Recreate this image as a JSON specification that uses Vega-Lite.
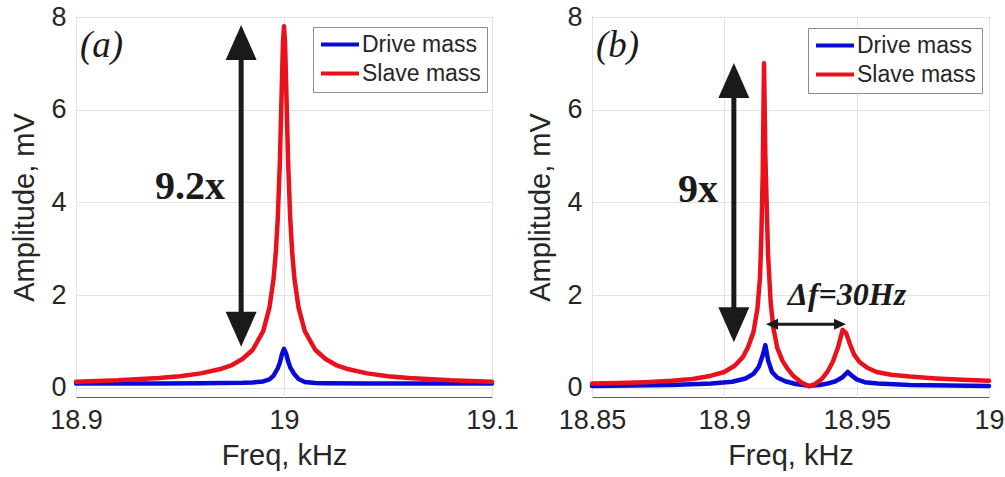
{
  "$schema": "https://vega.github.io/schema/vega-lite/v6.json",
  "background": "white",
  "padding": {"left": 10, "top": 2, "right": 0, "bottom": 0},
  "spacing": 7,
  "datasets": {
    "curvesA": [
      {"mass": "Drive mass", "f": 18.9, "amp": 0.09},
      {"mass": "Drive mass", "f": 18.92, "amp": 0.09},
      {"mass": "Drive mass", "f": 18.94, "amp": 0.09},
      {"mass": "Drive mass", "f": 18.96, "amp": 0.095},
      {"mass": "Drive mass", "f": 18.97, "amp": 0.1},
      {"mass": "Drive mass", "f": 18.98, "amp": 0.105},
      {"mass": "Drive mass", "f": 18.985, "amp": 0.115},
      {"mass": "Drive mass", "f": 18.99, "amp": 0.135},
      {"mass": "Drive mass", "f": 18.993, "amp": 0.18},
      {"mass": "Drive mass", "f": 18.995, "amp": 0.26},
      {"mass": "Drive mass", "f": 18.997, "amp": 0.42},
      {"mass": "Drive mass", "f": 18.998, "amp": 0.54},
      {"mass": "Drive mass", "f": 18.999, "amp": 0.72},
      {"mass": "Drive mass", "f": 19.0, "amp": 0.84},
      {"mass": "Drive mass", "f": 19.001, "amp": 0.74},
      {"mass": "Drive mass", "f": 19.002, "amp": 0.57},
      {"mass": "Drive mass", "f": 19.003, "amp": 0.44},
      {"mass": "Drive mass", "f": 19.005, "amp": 0.29},
      {"mass": "Drive mass", "f": 19.007, "amp": 0.19},
      {"mass": "Drive mass", "f": 19.01, "amp": 0.125},
      {"mass": "Drive mass", "f": 19.015, "amp": 0.1},
      {"mass": "Drive mass", "f": 19.02, "amp": 0.095},
      {"mass": "Drive mass", "f": 19.04, "amp": 0.09},
      {"mass": "Drive mass", "f": 19.06, "amp": 0.09},
      {"mass": "Drive mass", "f": 19.08, "amp": 0.09},
      {"mass": "Drive mass", "f": 19.1, "amp": 0.09},
      {"mass": "Slave mass", "f": 18.9, "amp": 0.13},
      {"mass": "Slave mass", "f": 18.92, "amp": 0.16},
      {"mass": "Slave mass", "f": 18.94, "amp": 0.21},
      {"mass": "Slave mass", "f": 18.95, "amp": 0.25},
      {"mass": "Slave mass", "f": 18.96, "amp": 0.31},
      {"mass": "Slave mass", "f": 18.97, "amp": 0.41},
      {"mass": "Slave mass", "f": 18.975, "amp": 0.49},
      {"mass": "Slave mass", "f": 18.98, "amp": 0.62},
      {"mass": "Slave mass", "f": 18.985, "amp": 0.82},
      {"mass": "Slave mass", "f": 18.99, "amp": 1.22},
      {"mass": "Slave mass", "f": 18.993, "amp": 1.73},
      {"mass": "Slave mass", "f": 18.995, "amp": 2.36},
      {"mass": "Slave mass", "f": 18.996, "amp": 2.88},
      {"mass": "Slave mass", "f": 18.997, "amp": 3.65},
      {"mass": "Slave mass", "f": 18.998, "amp": 4.85},
      {"mass": "Slave mass", "f": 18.999, "amp": 6.6},
      {"mass": "Slave mass", "f": 18.9995, "amp": 7.44},
      {"mass": "Slave mass", "f": 19.0, "amp": 7.8},
      {"mass": "Slave mass", "f": 19.0005, "amp": 7.44},
      {"mass": "Slave mass", "f": 19.001, "amp": 6.6},
      {"mass": "Slave mass", "f": 19.002, "amp": 4.85},
      {"mass": "Slave mass", "f": 19.003, "amp": 3.65},
      {"mass": "Slave mass", "f": 19.004, "amp": 2.88},
      {"mass": "Slave mass", "f": 19.005, "amp": 2.36},
      {"mass": "Slave mass", "f": 19.007, "amp": 1.73},
      {"mass": "Slave mass", "f": 19.01, "amp": 1.22},
      {"mass": "Slave mass", "f": 19.015, "amp": 0.82},
      {"mass": "Slave mass", "f": 19.02, "amp": 0.62},
      {"mass": "Slave mass", "f": 19.025, "amp": 0.49},
      {"mass": "Slave mass", "f": 19.03, "amp": 0.41},
      {"mass": "Slave mass", "f": 19.04, "amp": 0.31},
      {"mass": "Slave mass", "f": 19.05, "amp": 0.25},
      {"mass": "Slave mass", "f": 19.06, "amp": 0.21},
      {"mass": "Slave mass", "f": 19.08, "amp": 0.16},
      {"mass": "Slave mass", "f": 19.1, "amp": 0.13}
    ],
    "curvesB": [
      {"mass": "Drive mass", "f": 18.85, "amp": 0.04},
      {"mass": "Drive mass", "f": 18.88, "amp": 0.06},
      {"mass": "Drive mass", "f": 18.895, "amp": 0.09},
      {"mass": "Drive mass", "f": 18.903, "amp": 0.13},
      {"mass": "Drive mass", "f": 18.908, "amp": 0.2},
      {"mass": "Drive mass", "f": 18.911, "amp": 0.3},
      {"mass": "Drive mass", "f": 18.913, "amp": 0.45},
      {"mass": "Drive mass", "f": 18.9145, "amp": 0.7},
      {"mass": "Drive mass", "f": 18.9155, "amp": 0.92},
      {"mass": "Drive mass", "f": 18.9165, "amp": 0.6},
      {"mass": "Drive mass", "f": 18.918, "amp": 0.34},
      {"mass": "Drive mass", "f": 18.92, "amp": 0.22},
      {"mass": "Drive mass", "f": 18.923, "amp": 0.14},
      {"mass": "Drive mass", "f": 18.927, "amp": 0.08},
      {"mass": "Drive mass", "f": 18.932, "amp": 0.04},
      {"mass": "Drive mass", "f": 18.936, "amp": 0.06},
      {"mass": "Drive mass", "f": 18.939, "amp": 0.09},
      {"mass": "Drive mass", "f": 18.942, "amp": 0.14},
      {"mass": "Drive mass", "f": 18.9445, "amp": 0.22},
      {"mass": "Drive mass", "f": 18.9466, "amp": 0.34},
      {"mass": "Drive mass", "f": 18.948, "amp": 0.27},
      {"mass": "Drive mass", "f": 18.95, "amp": 0.18},
      {"mass": "Drive mass", "f": 18.953, "amp": 0.12},
      {"mass": "Drive mass", "f": 18.958, "amp": 0.09},
      {"mass": "Drive mass", "f": 18.97, "amp": 0.06},
      {"mass": "Drive mass", "f": 18.985, "amp": 0.05},
      {"mass": "Drive mass", "f": 19.0, "amp": 0.04},
      {"mass": "Slave mass", "f": 18.85, "amp": 0.09},
      {"mass": "Slave mass", "f": 18.86, "amp": 0.1},
      {"mass": "Slave mass", "f": 18.87, "amp": 0.12},
      {"mass": "Slave mass", "f": 18.88, "amp": 0.15},
      {"mass": "Slave mass", "f": 18.888, "amp": 0.19},
      {"mass": "Slave mass", "f": 18.895, "amp": 0.26},
      {"mass": "Slave mass", "f": 18.9, "amp": 0.34},
      {"mass": "Slave mass", "f": 18.904, "amp": 0.48},
      {"mass": "Slave mass", "f": 18.907, "amp": 0.66},
      {"mass": "Slave mass", "f": 18.909, "amp": 0.88},
      {"mass": "Slave mass", "f": 18.911, "amp": 1.2},
      {"mass": "Slave mass", "f": 18.9125, "amp": 1.7},
      {"mass": "Slave mass", "f": 18.9135, "amp": 2.4},
      {"mass": "Slave mass", "f": 18.914, "amp": 3.3},
      {"mass": "Slave mass", "f": 18.9145, "amp": 4.6},
      {"mass": "Slave mass", "f": 18.915, "amp": 7.0},
      {"mass": "Slave mass", "f": 18.9155, "amp": 5.0},
      {"mass": "Slave mass", "f": 18.9165, "amp": 2.9},
      {"mass": "Slave mass", "f": 18.9175, "amp": 1.85},
      {"mass": "Slave mass", "f": 18.9185, "amp": 1.3},
      {"mass": "Slave mass", "f": 18.92, "amp": 0.86},
      {"mass": "Slave mass", "f": 18.922, "amp": 0.58},
      {"mass": "Slave mass", "f": 18.924, "amp": 0.4},
      {"mass": "Slave mass", "f": 18.926, "amp": 0.26},
      {"mass": "Slave mass", "f": 18.929, "amp": 0.12},
      {"mass": "Slave mass", "f": 18.932, "amp": 0.03},
      {"mass": "Slave mass", "f": 18.934, "amp": 0.07},
      {"mass": "Slave mass", "f": 18.937, "amp": 0.2},
      {"mass": "Slave mass", "f": 18.939, "amp": 0.35},
      {"mass": "Slave mass", "f": 18.941, "amp": 0.56},
      {"mass": "Slave mass", "f": 18.943, "amp": 0.88},
      {"mass": "Slave mass", "f": 18.9447, "amp": 1.25},
      {"mass": "Slave mass", "f": 18.946, "amp": 1.18},
      {"mass": "Slave mass", "f": 18.9474, "amp": 0.95},
      {"mass": "Slave mass", "f": 18.949, "amp": 0.72},
      {"mass": "Slave mass", "f": 18.951, "amp": 0.56},
      {"mass": "Slave mass", "f": 18.954, "amp": 0.43},
      {"mass": "Slave mass", "f": 18.9575, "amp": 0.34},
      {"mass": "Slave mass", "f": 18.963, "amp": 0.28},
      {"mass": "Slave mass", "f": 18.97, "amp": 0.24},
      {"mass": "Slave mass", "f": 18.98, "amp": 0.2},
      {"mass": "Slave mass", "f": 18.99, "amp": 0.17},
      {"mass": "Slave mass", "f": 19.0, "amp": 0.15}
    ]
  },
  "hconcat": [
    {
      "width": 416,
      "height": 380,
      "encoding": {
        "x": {"field": "f", "type": "quantitative", "scale": {"domain": [18.9, 19.1], "nice": false, "zero": false}, "axis": {"title": "Freq, kHz", "values": [18.9, 19, 19.1], "format": "~g"}},
        "y": {"field": "amp", "type": "quantitative", "scale": {"domain": [-0.2, 8], "nice": false, "zero": false}, "axis": {"title": "Amplitude, mV", "values": [0, 2, 4, 6, 8], "format": "~g"}}
      },
      "layer": [
        {
          "data": {"name": "curvesA"},
          "mark": {"type": "line", "strokeWidth": 4.5, "strokeJoin": "round", "strokeCap": "round"},
          "encoding": {
            "color": {
              "field": "mass", "type": "nominal",
              "scale": {"domain": ["Drive mass", "Slave mass"], "range": ["#0a0ad8", "#e9121c"]},
              "legend": {"title": null, "orient": "none", "legendX": 237, "legendY": 10, "strokeColor": "#8c8c8c", "fillColor": "white", "padding": 6, "labelFontSize": 23, "labelFont": "Liberation Sans", "labelColor": "#262626", "symbolType": "M-1,0H3", "symbolStrokeWidth": 4, "symbolSize": 361, "rowPadding": 5, "labelOffset": 20}
            }
          }
        },
        {
          "data": {"values": [{"f": 18.9794, "amp": 7.3, "amp2": 1.4}]},
          "mark": {"type": "rule", "strokeWidth": 5, "color": "#1a1a1a"},
          "encoding": {"y2": {"field": "amp2"}}
        },
        {
          "data": {"values": [{"f": 18.9794, "amp": 7.45, "dir": "up"}, {"f": 18.9794, "amp": 1.26, "dir": "down"}]},
          "mark": {"type": "point", "filled": true, "size": 1225, "opacity": 1, "color": "#1a1a1a", "strokeWidth": 0},
          "encoding": {"shape": {"field": "dir", "type": "nominal", "scale": {"domain": ["up", "down", "left", "right"], "range": ["M0,-1L0.886,1L-0.886,1Z", "M0,1L0.886,-1L-0.886,-1Z", "M-1,0L1,-0.9L1,0.9Z", "M1,0L-1,-0.9L-1,0.9Z"]}, "legend": null}}
        },
        {
          "data": {"values": [{"f": 18.9019, "amp": 7.14, "label": "(a)"}]},
          "mark": {"type": "text", "align": "left", "baseline": "alphabetic", "font": "Liberation Serif", "fontStyle": "italic", "fontSize": 37, "color": "#1a1a1a"},
          "encoding": {"text": {"field": "label"}}
        },
        {
          "data": {"values": [{"f": 18.938, "amp": 4.07, "label": "9.2x"}]},
          "mark": {"type": "text", "align": "left", "baseline": "alphabetic", "font": "Liberation Serif", "fontWeight": "bold", "fontSize": 40, "color": "#1a1a1a"},
          "encoding": {"text": {"field": "label"}}
        }
      ]
    },
    {
      "width": 397,
      "height": 380,
      "encoding": {
        "x": {"field": "f", "type": "quantitative", "scale": {"domain": [18.85, 19.0], "nice": false, "zero": false}, "axis": {"title": "Freq, kHz", "values": [18.85, 18.9, 18.95, 19], "format": "~g"}},
        "y": {"field": "amp", "type": "quantitative", "scale": {"domain": [-0.2, 8], "nice": false, "zero": false}, "axis": {"title": "Amplitude, mV", "values": [0, 2, 4, 6, 8], "format": "~g"}}
      },
      "layer": [
        {
          "data": {"name": "curvesB"},
          "mark": {"type": "line", "strokeWidth": 4.5, "strokeJoin": "round", "strokeCap": "round"},
          "encoding": {
            "color": {
              "field": "mass", "type": "nominal",
              "scale": {"domain": ["Drive mass", "Slave mass"], "range": ["#0a0ad8", "#e9121c"]},
              "legend": {"title": null, "orient": "none", "legendX": 216, "legendY": 11, "strokeColor": "#8c8c8c", "fillColor": "white", "padding": 6, "labelFontSize": 23, "labelFont": "Liberation Sans", "labelColor": "#262626", "symbolType": "M-1,0H3", "symbolStrokeWidth": 4, "symbolSize": 361, "rowPadding": 5, "labelOffset": 20}
            }
          }
        },
        {
          "data": {"values": [{"f": 18.9036, "amp": 6.5, "amp2": 1.5}]},
          "mark": {"type": "rule", "strokeWidth": 5, "color": "#1a1a1a"},
          "encoding": {"y2": {"field": "amp2"}}
        },
        {
          "data": {"values": [{"f": 18.9036, "amp": 6.63, "dir": "up"}, {"f": 18.9036, "amp": 1.36, "dir": "down"}]},
          "mark": {"type": "point", "filled": true, "size": 1225, "opacity": 1, "color": "#1a1a1a", "strokeWidth": 0},
          "encoding": {"shape": {"field": "dir", "type": "nominal", "scale": {"domain": ["up", "down", "left", "right"], "range": ["M0,-1L0.886,1L-0.886,1Z", "M0,1L0.886,-1L-0.886,-1Z", "M-1,0L1,-0.9L1,0.9Z", "M1,0L-1,-0.9L-1,0.9Z"]}, "legend": null}}
        },
        {
          "data": {"values": [{"f": 18.9185, "amp": 1.37, "f2": 18.943}]},
          "mark": {"type": "rule", "strokeWidth": 3, "color": "#1a1a1a"},
          "encoding": {"x2": {"field": "f2"}}
        },
        {
          "data": {"values": [{"f": 18.918, "amp": 1.37, "dir": "left"}, {"f": 18.9437, "amp": 1.37, "dir": "right"}]},
          "mark": {"type": "point", "filled": true, "size": 144, "opacity": 1, "color": "#1a1a1a", "strokeWidth": 0},
          "encoding": {"shape": {"field": "dir", "type": "nominal", "scale": {"domain": ["up", "down", "left", "right"], "range": ["M0,-1L0.886,1L-0.886,1Z", "M0,1L0.886,-1L-0.886,-1Z", "M-1,0L1,-0.9L1,0.9Z", "M1,0L-1,-0.9L-1,0.9Z"]}, "legend": null}}
        },
        {
          "data": {"values": [{"f": 18.8515, "amp": 7.14, "label": "(b)"}]},
          "mark": {"type": "text", "align": "left", "baseline": "alphabetic", "font": "Liberation Serif", "fontStyle": "italic", "fontSize": 37, "color": "#1a1a1a"},
          "encoding": {"text": {"field": "label"}}
        },
        {
          "data": {"values": [{"f": 18.8825, "amp": 4.0, "label": "9x"}]},
          "mark": {"type": "text", "align": "left", "baseline": "alphabetic", "font": "Liberation Serif", "fontWeight": "bold", "fontSize": 40, "color": "#1a1a1a"},
          "encoding": {"text": {"field": "label"}}
        },
        {
          "data": {"values": [{"f": 18.924, "amp": 1.78, "label": "Δf=30Hz"}]},
          "mark": {"type": "text", "align": "left", "baseline": "alphabetic", "font": "Liberation Serif", "fontWeight": "bold", "fontStyle": "italic", "fontSize": 32, "color": "#1a1a1a"},
          "encoding": {"text": {"field": "label"}}
        }
      ]
    }
  ],
  "resolve": {"legend": {"color": "independent"}},
  "config": {
    "view": {"stroke": "#5a5a5a", "strokeWidth": 1},
    "font": "Liberation Sans",
    "axis": {
      "labelFont": "Liberation Sans", "labelFontSize": 27, "labelColor": "#262626",
      "titleFont": "Liberation Sans", "titleFontSize": 29, "titleFontWeight": "normal", "titleColor": "#262626",
      "grid": true, "gridColor": "#e3e3e3", "gridWidth": 1,
      "domain": false, "ticks": false, "labelPadding": 10, "labelFlush": false, "labelOverlap": false
    },
    "axisX": {"titlePadding": 8},
    "axisY": {"titlePadding": 11}
  }
}
